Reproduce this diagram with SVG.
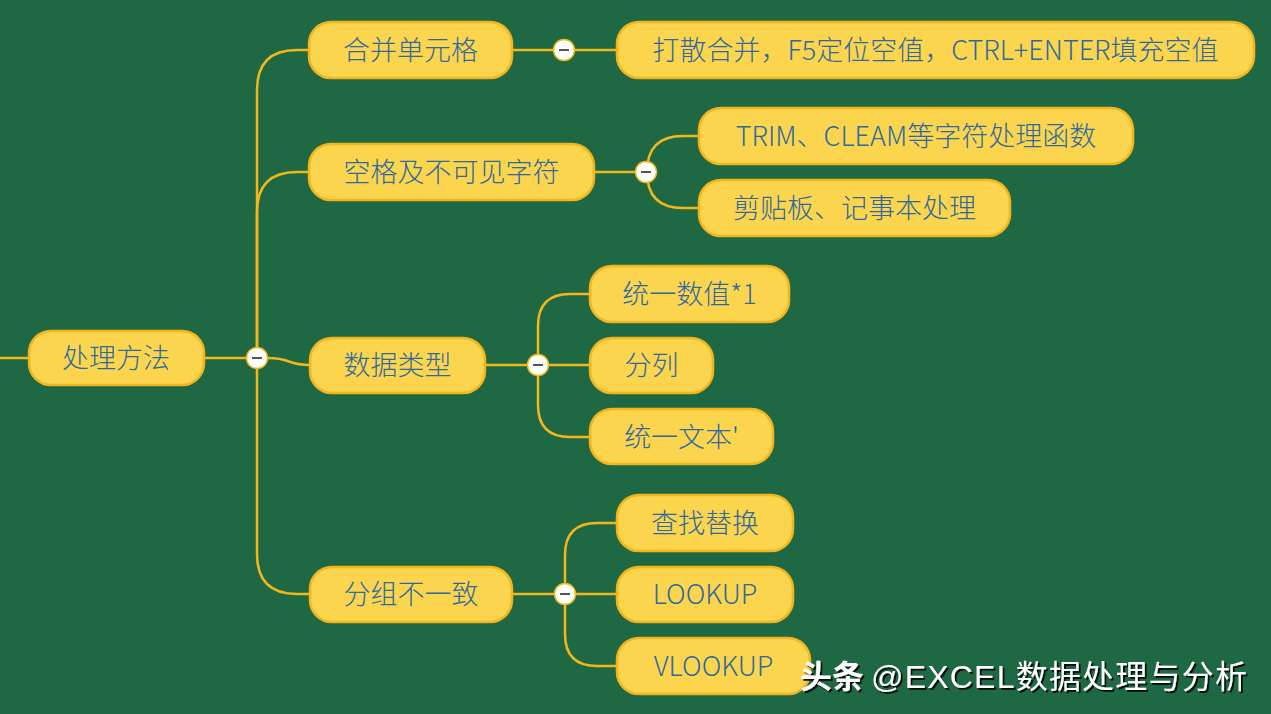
<svg xmlns="http://www.w3.org/2000/svg" width="1271" height="714" viewBox="0 0 1271 714">
<defs>
<style>
.node rect{fill:#FBD54E;stroke:#F4B41C;stroke-width:2.5}
.node text{font-family:"Noto Sans CJK SC","Noto Sans",sans-serif;font-size:27px;fill:#2F69A0;text-anchor:middle;font-weight:300}
.conn path{fill:none;stroke:#F5B61A;stroke-width:2.5}
.tog circle{fill:#FFFFFF;stroke:#F5B61A;stroke-width:1.5}
.tog path{stroke:#555555;stroke-width:2;fill:none}
.wm{font-family:"Liberation Sans","Noto Sans CJK SC",sans-serif;font-size:32px;fill:#FFFFFF}
</style>
<filter id="sh" x="-5%" y="-20%" width="110%" height="150%">
<feDropShadow dx="1.8" dy="1.8" stdDeviation="0.4" flood-color="#000000" flood-opacity="0.9"/>
</filter>
</defs>
<rect width="1271" height="714" fill="#1E6944"/>
<g class="conn" id="connectors">
<path d="M0,358 H29"/>
<path d="M204,358 H246"/>
<path d="M257,347 V90 Q257,50 297,50 H309"/>
<path d="M257,347 V212 Q257,172 297,172 H309"/>
<path d="M268,358 C292,358 286,365 310,365"/>
<path d="M257,369 V554 Q257,594 297,594 H310"/>
<path d="M512,50 H617"/>
<path d="M594,172 H646"/>
<path d="M647,172 Q647,136 683,136 H699"/>
<path d="M647,172 Q647,208 683,208 H699"/>
<path d="M485,365 H590"/>
<path d="M538,365 V326 Q538,294 570,294 H590"/>
<path d="M538,365 V405 Q538,437 570,437 H590"/>
<path d="M512,594 H617"/>
<path d="M565,594 V555 Q565,523 597,523 H617"/>
<path d="M565,594 V634 Q565,666 597,666 H617"/>
</g>
<g class="tog" id="toggles">
<g><circle cx="257" cy="358" r="10.5"/><path d="M252,358 H262"/></g>
<g><circle cx="564" cy="50" r="10.5"/><path d="M559,50 H569"/></g>
<g><circle cx="646" cy="172" r="10.5"/><path d="M641,172 H651"/></g>
<g><circle cx="538" cy="365" r="10.5"/><path d="M533,365 H543"/></g>
<g><circle cx="565" cy="594" r="10.5"/><path d="M560,594 H570"/></g>
</g>
<g class="node" id="n-root"><rect x="29" y="331" width="175" height="54" rx="22"/><text x="116" y="368">处理方法</text></g>
<g class="node" id="n-merge"><rect x="309" y="22" width="203" height="56" rx="22"/><text x="410.5" y="60">合并单元格</text></g>
<g class="node" id="n-merge-1"><rect x="617" y="22" width="637" height="56" rx="22"/><text x="935.5" y="60">打散合并，F5定位空值，CTRL+ENTER填充空值</text></g>
<g class="node" id="n-space"><rect x="309" y="144" width="285" height="56" rx="22"/><text x="451.5" y="182">空格及不可见字符</text></g>
<g class="node" id="n-space-1"><rect x="699" y="108" width="434" height="56" rx="22"/><text x="916" y="146">TRIM、CLEAM等字符处理函数</text></g>
<g class="node" id="n-space-2"><rect x="699" y="180" width="311" height="56" rx="22"/><text x="854.5" y="218">剪贴板、记事本处理</text></g>
<g class="node" id="n-type"><rect x="310" y="338" width="175" height="55" rx="22"/><text x="397.5" y="375">数据类型</text></g>
<g class="node" id="n-type-1"><rect x="590" y="266" width="199" height="56" rx="22"/><text x="689.5" y="304">统一数值*1</text></g>
<g class="node" id="n-type-2"><rect x="590" y="338" width="123" height="55" rx="22"/><text x="651.5" y="375">分列</text></g>
<g class="node" id="n-type-3"><rect x="590" y="409" width="183" height="55" rx="22"/><text x="681.5" y="447">统一文本'</text></g>
<g class="node" id="n-group"><rect x="310" y="567" width="202" height="55" rx="22"/><text x="411" y="604">分组不一致</text></g>
<g class="node" id="n-group-1"><rect x="617" y="495" width="176" height="56" rx="22"/><text x="705" y="533">查找替换</text></g>
<g class="node" id="n-group-2"><rect x="617" y="567" width="176" height="55" rx="22"/><text x="705" y="604">LOOKUP</text></g>
<g class="node" id="n-group-3"><rect x="617" y="638" width="193" height="56" rx="22"/><text x="713.5" y="676">VLOOKUP</text></g>
<text class="wm" x="800" y="688" filter="url(#sh)"><tspan font-weight="bold" font-family="Noto Sans CJK SC, sans-serif">头条</tspan><tspan x="871" textLength="376" lengthAdjust="spacing">@EXCEL数据处理与分析</tspan></text>
</svg>
